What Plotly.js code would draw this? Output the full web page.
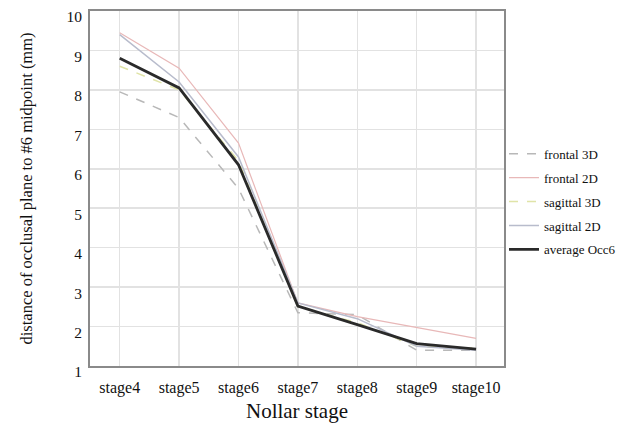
<!DOCTYPE html>
<html>
<head>
<meta charset="utf-8">
<script src="https://cdn.plot.ly/plotly-3.0.1.min.js"></script>
<style>html,body{margin:0;padding:0;background:#fff;}#chart{width:632px;height:429px;}</style>
</head>
<body>
<div id="chart"></div>
<script>
const stages = ["stage4","stage5","stage6","stage7","stage8","stage9","stage10"];
const frontal3D  = [7.95, 7.3, 5.5, 2.35, 2.3, 1.4, 1.4];
const frontal2D  = [9.45, 8.55, 6.65, 2.6, 2.25, 1.98, 1.7];
const sagittal3D = [8.6, 8.0, 6.2, 2.5, 2.1, 1.5, 1.45];
const sagittal2D = [9.4, 8.2, 6.3, 2.6, 2.2, 1.5, 1.4];
const averageOcc6 = [8.8, 8.05, 6.1, 2.52, 2.05, 1.57, 1.43];
const seriesNames = ["frontal 3D","frontal 2D","sagittal 3D","sagittal 2D","average Occ6"];

const serif = "Times New Roman, Liberation Serif, serif";
const styles = [
  {color:"#b8b8b8", width:1.5, dash:"dash"},
  {color:"#e8b8b8", width:1.2, dash:"solid"},
  {color:"#e0e4a8", width:1.5, dash:"dash"},
  {color:"#b8bccc", width:1.5, dash:"solid"},
  {color:"#2a2a2a", width:2.8, dash:"solid"}
];
const values = [frontal3D, frontal2D, sagittal3D, sagittal2D, averageOcc6];
const traces = values.map((v,i)=>({
  x: stages, y: v, type:"scatter", mode:"lines", name: seriesNames[i],
  legendgroup: "g"+i,
  line: styles[i]
}));

const layout = {
  width:632, height:429,
  margin:{l:90, r:124, t:11, b:63},
  paper_bgcolor:"#fff", plot_bgcolor:"#fff",
  font:{family:serif, color:"#111", size:13},
  showlegend:true,
  legend:{x:1.0, xanchor:"left", y:0.64, yanchor:"top", font:{family:serif, size:13, color:"#111"},
          tracegroupgap:4, traceorder:"grouped", bgcolor:"rgba(0,0,0,0)"},
  xaxis:{
    type:"category", range:[-0.5, 6.47],
    showgrid:true, gridcolor:"#e2e2e2", gridwidth:1.5,
    showline:true, linecolor:"#8a8a8a", linewidth:2, mirror:true,
    ticks:"", ticklabelstandoff:6, tickfont:{family:serif, size:16, color:"#111"},
    title:{text:"Nollar stage", font:{family:serif, size:21, color:"#111"}, standoff:7},
    zeroline:false
  },
  yaxis:{
    range:[1,10], dtick:1, tick0:1,
    showgrid:true, gridcolor:"#e2e2e2", gridwidth:1.5,
    showline:true, linecolor:"#8a8a8a", linewidth:2, mirror:true,
    ticks:"", ticklabelstandoff:3, ticklabelshift:6, tickfont:{family:serif, size:15.5, color:"#111"},
    title:{text:"distance of occlusal plane to #6 midpoint (mm)", font:{family:serif, size:16.5, color:"#111"}, standoff:30},
    zeroline:false
  }
};
Plotly.newPlot("chart", traces, layout, {displayModeBar:false, staticPlot:true});
</script>
</body>
</html>
